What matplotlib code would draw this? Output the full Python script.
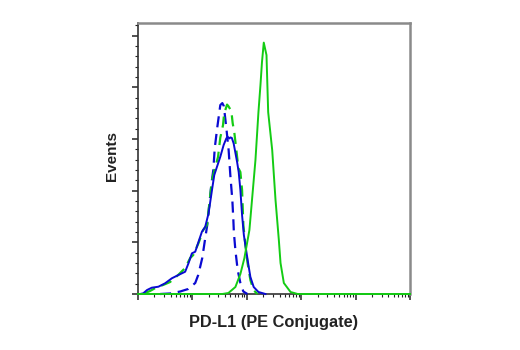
import numpy as np
import matplotlib
matplotlib.use("Agg")
import matplotlib.pyplot as plt
from matplotlib.ticker import MultipleLocator, LogLocator, NullFormatter

# Histogram traces: log10 fluorescence position and relative event count
pos_specific_log = [0.0, 1.0, 1.55, 1.661, 1.790, 1.882, 1.956, 2.048, 2.159, 2.214, 2.251,
                    2.279, 2.312, 2.362, 2.393, 2.467, 2.528, 2.589, 2.620, 2.681, 2.804,
                    2.934, 5.0]
pos_specific_cnt = [0.0, 0.0, 0.0, 0.019, 0.135, 0.387, 0.696, 1.238, 2.592, 3.520, 4.043,
                    4.487, 4.865, 4.623, 3.520, 2.785, 1.818, 1.044, 0.600, 0.213, 0.039,
                    0.0, 0.0]

pos_isotype_log = [0.129, 0.221, 0.351, 0.461, 0.590, 0.738, 0.867, 0.959, 1.015, 1.113,
                   1.199, 1.268, 1.360, 1.421, 1.471, 1.513, 1.563, 1.577, 1.605, 1.637,
                   1.661, 1.716, 1.740, 1.771, 1.808, 1.845, 1.882, 1.913, 1.937, 1.974,
                   2.011, 2.066, 2.122, 2.196]
pos_isotype_cnt = [0.019, 0.058, 0.135, 0.174, 0.232, 0.368, 0.503, 0.696, 0.754, 0.986,
                   1.238, 1.335, 2.205, 2.462, 2.650, 3.027, 3.269, 3.424, 3.559, 3.665,
                   3.636, 3.540, 3.308, 3.120, 2.785, 2.437, 2.360, 2.012, 1.335, 0.948,
                   0.619, 0.271, 0.077, 0.0]

neg_specific_log = [0.0, 0.037, 0.098, 0.166, 0.253, 0.375, 0.498, 0.622, 0.744, 0.867,
                    0.928, 0.991, 1.052, 1.113, 1.175, 1.236, 1.297, 1.360, 1.402, 1.452,
                    1.513, 1.574, 1.624, 1.650, 1.680, 1.700, 1.725, 1.758, 1.821, 1.851,
                    1.882, 1.913, 1.946, 1.993, 2.030, 2.066, 2.127, 2.214, 2.343]
neg_specific_cnt = [0.0, 0.0, 0.014, 0.077, 0.122, 0.141, 0.207, 0.304, 0.368, 0.431,
                    0.594, 0.787, 0.818, 1.012, 1.205, 1.302, 1.561, 2.012, 2.302, 2.462,
                    2.656, 2.882, 3.012, 3.040, 3.010, 3.030, 3.020, 2.915, 2.559, 2.359,
                    2.012, 1.528, 1.141, 0.812, 0.561, 0.329, 0.135, 0.039, 0.0]

neg_isotype_log = [0.406, 0.590, 0.775, 0.923, 1.052, 1.107, 1.181, 1.236, 1.273, 1.310,
                   1.347, 1.384, 1.411, 1.458, 1.513, 1.550, 1.578, 1.624, 1.666, 1.697,
                   1.734, 1.753, 1.762, 1.790, 1.832, 1.882, 1.937, 2.011]
neg_isotype_cnt = [0.0, 0.010, 0.048, 0.097, 0.213, 0.368, 0.696, 1.083, 1.335, 1.721,
                   2.108, 2.398, 2.824, 3.230, 3.656, 3.694, 3.636, 3.211, 2.785, 2.302,
                   1.818, 1.431, 1.199, 0.851, 0.464, 0.213, 0.048, 0.0]

GREEN = "#14cc14"
BLUE = "#0a0ad2"

plt.rcParams["font.family"] = ["Liberation Sans", "DejaVu Sans"]

fig = plt.figure(figsize=(5.2, 3.5), dpi=100)
ax = fig.add_axes([138 / 520, 1 - 294 / 350, (410 - 138) / 520, (294 - 22.7) / 350])

def to_lin(v):
    return 10.0 ** np.asarray(v)

ax.plot(to_lin(neg_isotype_log), neg_isotype_cnt, color=BLUE, lw=1.6,
        dashes=(5, 3), zorder=3, clip_on=False)
ax.plot(to_lin(pos_isotype_log), pos_isotype_cnt, color=GREEN, lw=1.6,
        dashes=(5, 3), zorder=3, clip_on=False)
ax.plot(to_lin(neg_specific_log), neg_specific_cnt, color=BLUE, lw=1.4,
        zorder=4, clip_on=False)
ax.plot(to_lin(pos_specific_log), pos_specific_cnt, color=GREEN, lw=1.4,
        zorder=5, clip_on=False)

ax.set_xscale("log")
ax.set_xlim(1, 1e5)
ax.set_ylim(0, 5.25)

ax.xaxis.set_major_locator(LogLocator(base=10, numticks=10))
ax.xaxis.set_minor_locator(LogLocator(base=10, subs=np.arange(2, 10), numticks=20))
ax.xaxis.set_major_formatter(NullFormatter())
ax.xaxis.set_minor_formatter(NullFormatter())
ax.yaxis.set_major_locator(MultipleLocator(1))
ax.yaxis.set_minor_locator(MultipleLocator(0.2))
ax.yaxis.set_major_formatter(NullFormatter())

ax.tick_params(which="major", direction="out", length=4.5, width=1.1, color="#222222")
ax.tick_params(which="minor", direction="out", length=2.5, width=0.8, color="#222222")
ax.tick_params(top=False, right=False)

for side in ("top", "right"):
    ax.spines[side].set_color("#8a8a8a")
    ax.spines[side].set_linewidth(1.8)
for side in ("left", "bottom"):
    ax.spines[side].set_color("#333333")
    ax.spines[side].set_linewidth(1.2)

fig.text(274 / 520, 1 - 322 / 350, "PD-L1 (PE Conjugate)", ha="center", va="center",
         fontsize=11.8, fontweight="bold", color="#222222")
fig.text(112 / 520, 1 - 156 / 350, "Events", ha="center", va="center", rotation=90,
         fontsize=11, fontweight="bold", color="#222222")

fig.savefig("out.png", dpi=100)
